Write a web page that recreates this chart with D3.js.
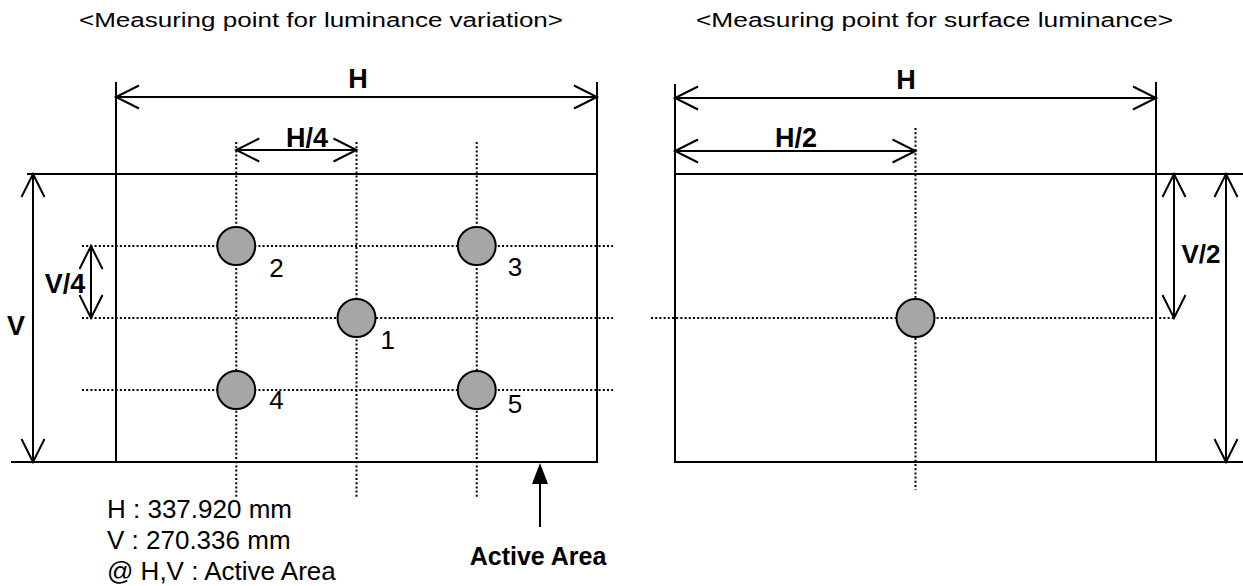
<!DOCTYPE html>
<html><head><meta charset="utf-8">
<script src="https://cdn.jsdelivr.net/npm/d3@7"></script>
<style>body{margin:0;background:#fff}svg{display:block}text{font-family:"Liberation Sans",Arial,sans-serif}</style>
</head><body>
<svg id="c" width="1243" height="586"></svg>
<script>
// Active area dimensions (mm)
const H = 337.920;
const V = 270.336;
// Luminance-variation measuring points (mm from top-left of active area)
const varLabels = ["1", "2", "3", "4", "5"];
const varX = [168.96, 84.48, 253.44, 84.48, 253.44];
const varY = [135.168, 67.584, 67.584, 202.752, 202.752];
// Guide positions (mm)
const gridX = [84.48, 168.96, 253.44];
const gridY = [67.584, 135.168, 202.752];
// Surface-luminance measuring point (mm)
const surfX = [168.96];
const surfY = [135.168];
const titles = ["<Measuring point for luminance variation>", "<Measuring point for surface luminance>"];
const noteLines = ["H : 337.920 mm", "V : 270.336 mm", "@ H,V : Active Area"];

const svg = d3.select("#c");
const xL = d3.scaleLinear().domain([0, H]).range([116, 597]);
const xR = d3.scaleLinear().domain([0, H]).range([675, 1156]);
const y = d3.scaleLinear().domain([0, V]).range([174, 462]);

function line(x1, y1, x2, y2, dotted) {
  const l = svg.append("line").attr("x1", x1).attr("y1", y1).attr("x2", x2).attr("y2", y2)
    .attr("stroke", "#000").attr("stroke-width", 2);
  if (dotted) l.attr("stroke-dasharray", "2,2.2");
  return l;
}
function head(tx, ty, dx, dy) {
  const L = 23, W = 11.5;
  const bx = tx - dx * L, by = ty - dy * L;
  const px = -dy * W, py = dx * W;
  svg.append("path").attr("d", `M${bx + px},${by + py}L${tx},${ty}L${bx - px},${by - py}`)
    .attr("fill", "none").attr("stroke", "#000").attr("stroke-width", 2);
}
function dim(x1, y1, x2, y2) {
  line(x1, y1, x2, y2);
  const len = Math.hypot(x2 - x1, y2 - y1), ux = (x2 - x1) / len, uy = (y2 - y1) / len;
  head(x2, y2, ux, uy);
  head(x1, y1, -ux, -uy);
}
function txt(x, y0, s, size, bold, anchor, len) {
  const t = svg.append("text").attr("x", x).attr("y", y0).text(s)
    .attr("font-size", size).attr("font-weight", bold ? "bold" : "normal")
    .attr("text-anchor", anchor || "middle").attr("fill", "#000");
  if (len) t.attr("textLength", len).attr("lengthAdjust", "spacingAndGlyphs");
  return t;
}

// Titles
txt(79, 27, titles[0], 20, false, "start", 484);
txt(696, 27, titles[1], 20, false, "start", 477);

// ===== Left panel =====
gridX.forEach(g => line(xL(g), 142, xL(g), 497, true));
gridY.forEach(g => line(82, y(g), 613, y(g), true));
svg.append("rect").attr("x", xL(0)).attr("y", y(0)).attr("width", xL(H) - xL(0)).attr("height", y(V) - y(0))
  .attr("fill", "none").attr("stroke", "#000").attr("stroke-width", 2);
line(xL(0), 82, xL(0), y(0));
line(xL(H), 82, xL(H), y(0));
line(27, y(0), xL(0), y(0));
line(11, y(V), xL(0), y(V));
dim(xL(0), 97, xL(H), 97);
txt(358, 88, "H", 27, true);
dim(xL(gridX[0]), 150, xL(gridX[1]), 150);
txt(307, 147, "H/4", 27, true);
dim(33, y(0), 33, y(V));
txt(16, 335, "V", 27, true);
dim(91, y(gridY[0]), 91, y(gridY[1]));
txt(65, 293, "V/4", 27, true);
// points
const lblOff = [[24, 31], [33, 31], [31, 30], [33, 19], [31, 23]];
varLabels.forEach((lab, i) => {
  svg.append("ellipse").attr("cx", xL(varX[i])).attr("cy", y(varY[i])).attr("rx", 19).attr("ry", 19)
    .attr("fill", "#a6a6a6").attr("stroke", "#000").attr("stroke-width", 2);
  txt(xL(varX[i]) + lblOff[i][0], y(varY[i]) + lblOff[i][1], lab, 26, false, "start");
});
// Active area arrow
line(540, 527, 540, 478);
svg.append("path").attr("d", "M540,463L532,484L548,484Z").attr("fill", "#000");
txt(538, 565, "Active Area", 25, true);
noteLines.forEach((s, i) => txt(107, 518 + i * 31, s, 26, false, "start"));

// ===== Right panel =====
line(xR(surfX[0]), 128, xR(surfX[0]), 490, true);
line(651, y(surfY[0]), 1174, y(surfY[0]), true);
svg.append("rect").attr("x", xR(0)).attr("y", y(0)).attr("width", xR(H) - xR(0)).attr("height", y(V) - y(0))
  .attr("fill", "none").attr("stroke", "#000").attr("stroke-width", 2);
line(xR(0), 84, xR(0), y(0));
line(xR(H), 82, xR(H), y(0));
line(xR(H), y(0), 1243, y(0));
line(xR(H), y(V), 1243, y(V));
dim(xR(0), 98, xR(H), 98);
txt(906, 89, "H", 27, true);
dim(xR(0), 151, xR(surfX[0]), 151);
txt(796, 147, "H/2", 27, true);
dim(1174, y(0), 1174, y(surfY[0]));
txt(1201, 263, "V/2", 26, true);
dim(1226, y(0), 1226, y(V));
svg.append("ellipse").attr("cx", xR(surfX[0])).attr("cy", y(surfY[0])).attr("rx", 19).attr("ry", 19)
  .attr("fill", "#a6a6a6").attr("stroke", "#000").attr("stroke-width", 2);
</script>
</body></html>
